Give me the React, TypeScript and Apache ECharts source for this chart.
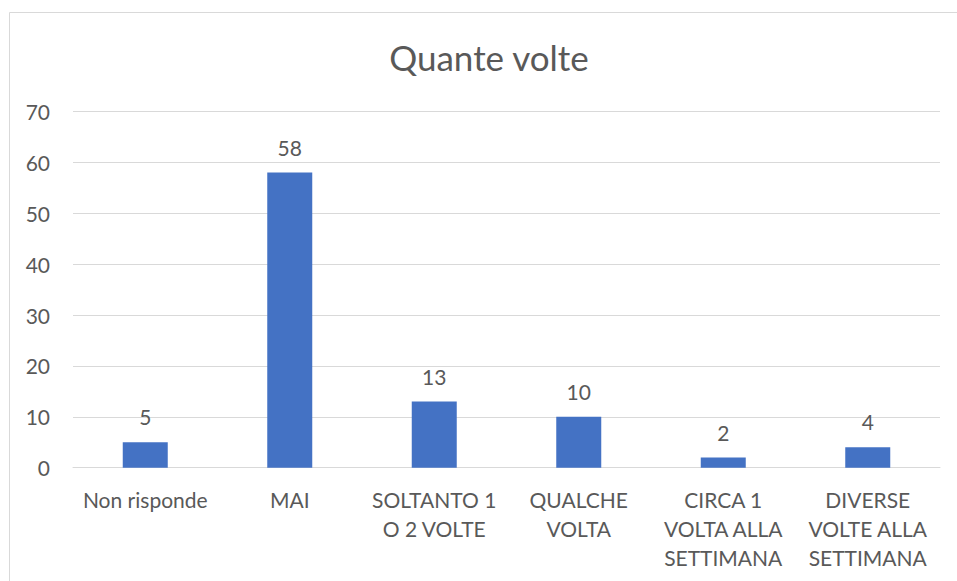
import React, { useEffect, useRef } from "react";
import * as echarts from "echarts";

const title = "Quante volte";
const categories = [
  "Non risponde",
  "MAI",
  "SOLTANTO 1\nO 2 VOLTE",
  "QUALCHE\nVOLTA",
  "CIRCA 1\nVOLTA ALLA\nSETTIMANA",
  "DIVERSE\nVOLTE ALLA\nSETTIMANA",
];
const values = [5, 58, 13, 10, 2, 4];
const yMin = 0;
const yMax = 70;
const yStep = 10;

const FONT = "Lato, 'Open Sans', sans-serif";
const TXT = "#595959";

export default function App() {
  const ref = useRef<HTMLDivElement>(null);
  useEffect(() => {
    if (!ref.current) return;
    const chart = echarts.init(ref.current, undefined, { renderer: "svg" });
    chart.setOption({
      animation: false,
      backgroundColor: "#ffffff",
      graphic: [
        {
          type: "polyline",
          shape: { points: [[9.5, 600], [9.5, 12.5], [960, 12.5]] },
          style: { stroke: "#d9d9d9", lineWidth: 1, fill: "none" },
          silent: true,
        },
        {
          type: "text",
          x: 489,
          y: 57,
          style: {
            text: title,
            font: `35px ${FONT}`,
            fill: TXT,
            textAlign: "center",
            textVerticalAlign: "middle",
          },
        },
      ],
      grid: { left: 73, right: 17, top: 111.5, bottom: 113.3, containLabel: false },
      xAxis: {
        type: "category",
        data: categories,
        axisLine: { show: true, lineStyle: { color: "#d9d9d9", width: 1 } },
        axisTick: { show: false },
        axisLabel: {
          color: TXT,
          fontFamily: FONT,
          fontSize: 21,
          lineHeight: 29,
          margin: 17,
          interval: 0,
          verticalAlign: "top",
        },
      },
      yAxis: {
        type: "value",
        min: yMin,
        max: yMax,
        interval: yStep,
        axisLine: { show: false },
        axisTick: { show: false },
        splitLine: { lineStyle: { color: "#d9d9d9", width: 1 } },
        axisLabel: { color: TXT, fontFamily: FONT, fontSize: 21, margin: 23 },
      },
      series: [
        {
          type: "bar",
          data: values,
          barWidth: 45,
          itemStyle: { color: "#4472C4" },
          label: {
            show: true,
            position: "top",
            distance: 15,
            color: TXT,
            fontFamily: FONT,
            fontSize: 21,
          },
        },
      ],
    });
    return () => chart.dispose();
  }, []);
  return (
    <div
      ref={ref}
      style={{ position: "absolute", left: 0, top: 0, width: 957, height: 581 }}
    />
  );
}
